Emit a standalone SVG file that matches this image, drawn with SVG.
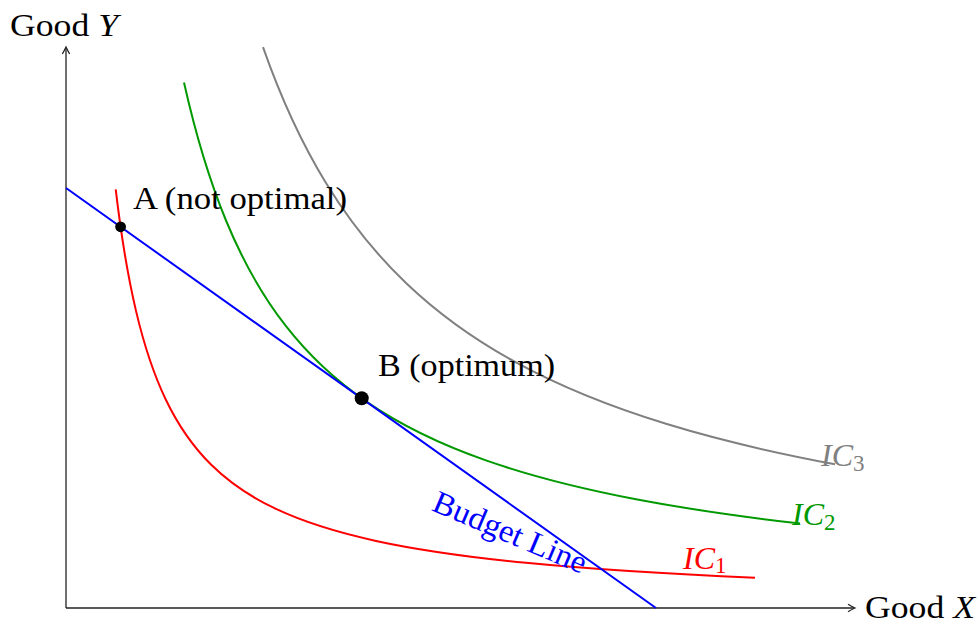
<svg xmlns="http://www.w3.org/2000/svg" width="979" height="624" viewBox="0 0 979 624">
<style>
  .lbl { font-family: "Liberation Serif", "Times New Roman", serif; font-size: 32px; fill: #000; }
  .it { font-style: italic; }
  .sub { font-family: "Liberation Serif", "Times New Roman", serif; font-size: 23px; font-style: normal; }
  .axis { stroke: #222; stroke-width: 1.3; fill: none; }
  .curve { fill: none; stroke-width: 2; stroke-linecap: butt; }
</style>
<rect width="979" height="624" fill="#fff"/>
<g id="axes">
  <line class="axis" x1="66" y1="608" x2="66" y2="48"/>
  <line class="axis" x1="66" y1="608" x2="854" y2="608"/>
  <path class="axis" d="M62.3,54 Q64.6,50.2 66,47 Q67.4,50.2 69.7,54"/>
  <path class="axis" d="M848,604.3 Q851.8,606.6 855,608 Q851.8,609.4 848,611.7"/>
  <text id="label-y" class="lbl" x="10" y="36" textLength="108" lengthAdjust="spacingAndGlyphs">Good <tspan class="it">Y</tspan></text>
  <text id="label-x" class="lbl" x="865" y="618" textLength="110" lengthAdjust="spacingAndGlyphs">Good <tspan class="it">X</tspan></text>
</g>
<g id="ic3">
  <path class="curve" stroke="#808080" d="M263,47.09 C284,106.88 305,148.67 326,183 C352.67,226.59 379.33,257.51 406,283 C442.67,318.05 479.33,342.43 516,362.44 C566,389.72 616,408.48 666,423.83 C722.33,441.12 778.67,453.78 835,464.31"/>
  <text class="lbl it" x="821" y="466" style="fill:#808080">IC<tspan class="sub" dy="4.5">3</tspan></text>
</g>
<g id="ic2">
  <path class="curve" stroke="#009900" d="M184,82.58 C198,144.92 212,186.59 226,220.5 C246,268.94 266,300.56 286,326.18 C312.67,360.34 339.33,382.96 366,401.33 C406,428.89 446,446.32 486,460.38 C536,477.95 586,489.69 636,499.23 C690.67,509.66 745.33,517.24 800,523.53"/>
  <text class="lbl it" x="792" y="525" style="fill:#009900">IC<tspan class="sub" dy="4.5">2</tspan></text>
</g>
<g id="ic1">
  <path class="curve" stroke="#ff0000" d="M115.7,189.49 C122.47,246.47 129.23,282.14 136,310.86 C146,353.31 156,379.2 166,400 C181,431.2 196,449.71 211,464.55 C232.67,485.98 254.33,498.73 276,508.95 C309.33,524.67 342.67,533.69 376,540.9 C426,551.72 476,557.87 526,562.78 C602.33,570.28 678.67,574.47 755,577.81"/>
  <text class="lbl it" x="683" y="568.5" style="fill:#ff0000">IC<tspan class="sub" dy="4">1</tspan></text>
</g>
<g id="budget">
  <line class="curve" stroke="#0000ff" x1="66" y1="188" x2="656" y2="608"/>
  <text class="lbl" transform="translate(506,542) rotate(23)" text-anchor="middle" textLength="164" lengthAdjust="spacingAndGlyphs" style="fill:#0000ff">Budget Line</text>
</g>
<g id="point-a">
  <circle cx="120.6" cy="226.8" r="5.4" fill="#000"/>
  <text class="lbl" x="133" y="208.5" textLength="214" lengthAdjust="spacingAndGlyphs">A (not optimal)</text>
</g>
<g id="point-b">
  <circle cx="361.7" cy="398.2" r="7" fill="#000"/>
  <text class="lbl" x="378" y="376" textLength="177" lengthAdjust="spacingAndGlyphs">B (optimum)</text>
</g>
</svg>
